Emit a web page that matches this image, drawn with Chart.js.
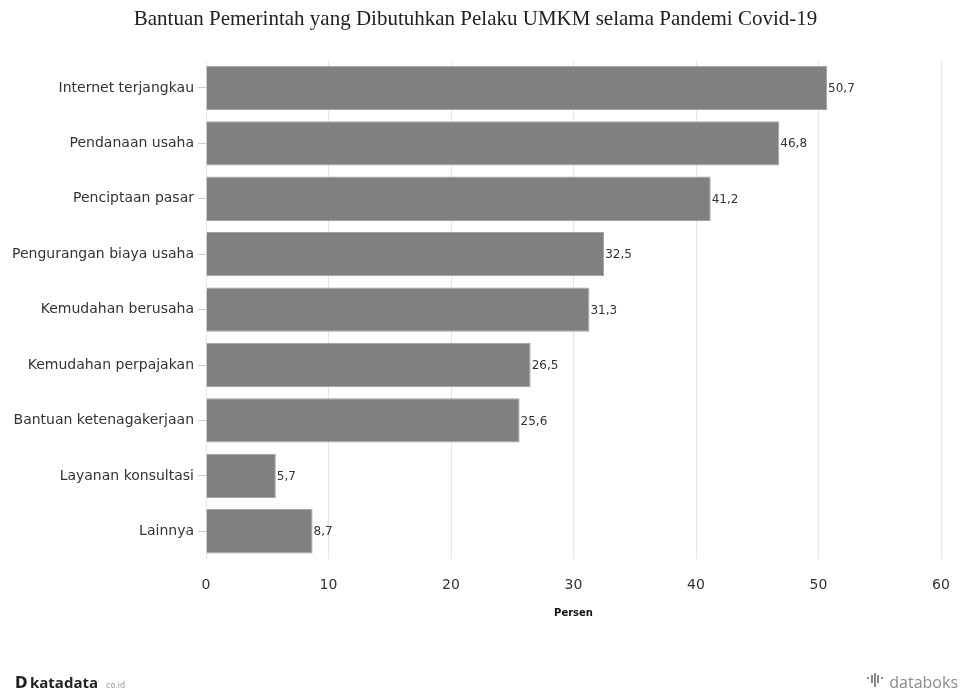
<!DOCTYPE html>
<html>
<head>
<meta charset="utf-8">
<script src="https://cdn.jsdelivr.net/npm/chart.js@4"></script>
<style>
  html, body { margin: 0; padding: 0; background: #fff; }
  #wrap { width: 960px; height: 691px; }
</style>
</head>
<body>
<div id="wrap"><canvas id="bantuan"></canvas></div>
<script>
const judul = 'Bantuan Pemerintah yang Dibutuhkan Pelaku UMKM selama Pandemi Covid-19'
const kategori = [
  'Internet terjangkau',
  'Pendanaan usaha',
  'Penciptaan pasar',
  'Pengurangan biaya usaha',
  'Kemudahan berusaha',
  'Kemudahan perpajakan',
  'Bantuan ketenagakerjaan',
  'Layanan konsultasi',
  'Lainnya'
]
const persen = [50.7, 46.8, 41.2, 32.5, 31.3, 26.5, 25.6, 5.7, 8.7]
const tickX = [0, 10, 20, 30, 40, 50, 60]

const fontSans = 'Verdana, "DejaVu Sans", sans-serif'

// label nilai di ujung bar
const labelNilai = {
  id: 'labelNilai',
  afterDatasetsDraw(chart) {
    const ctx = chart.ctx
    const meta = chart.getDatasetMeta(0)
    ctx.save()
    ctx.font = '12px ' + fontSans
    ctx.fillStyle = '#333'
    ctx.textAlign = 'left'
    ctx.textBaseline = 'middle'
    meta.data.forEach((bar, i) => {
      ctx.fillText(String(persen[i]).replace('.', ','), bar.x + 1, bar.y + 1)
    })
    ctx.restore()
  }
}

// logo bawah
const footer = {
  id: 'footer',
  afterDraw(chart) {
    const ctx = chart.ctx
    ctx.save()
    ctx.textBaseline = 'alphabetic'
    ctx.fillStyle = '#222'
    ctx.font = 'bold 15px ' + fontSans
    ctx.fillText('D', 15, 688)
    ctx.font = 'bold 15px "Open Sans", sans-serif'
    ctx.fillText('katadata', 30, 688)
    ctx.fillStyle = '#999'
    ctx.font = '8px ' + fontSans
    ctx.fillText('co.id', 106, 688)

    ctx.fillStyle = '#8a8a8a'
    ctx.font = '16px "Open Sans", sans-serif'
    ctx.textAlign = 'right'
    ctx.fillText('databoks', 958, 688)
    ctx.fillRect(867, 677, 2, 2)
    ctx.fillRect(871, 675, 2, 8)
    ctx.fillRect(874, 673, 2, 14)
    ctx.fillRect(877, 675, 2, 8)
    ctx.fillRect(881, 677, 2, 2)
    ctx.restore()
  }
}

new Chart(document.getElementById('bantuan'), {
  type: 'bar',
  data: {
    labels: kategori,
    datasets: [{
      data: persen,
      backgroundColor: '#808080',
      borderColor: '#a3a3a3',
      borderWidth: 1,
      barPercentage: 0.8,
      categoryPercentage: 1
    }]
  },
  options: {
    indexAxis: 'y',
    responsive: true,
    maintainAspectRatio: false,
    animation: false,
    layout: { padding: { left: 10, right: 19, top: 0, bottom: 68 } },
    plugins: {
      legend: { display: false },
      tooltip: { enabled: false },
      title: {
        display: true,
        text: judul,
        color: '#222',
        font: { family: '"Liberation Serif", "Times New Roman", serif', size: 21, weight: 'normal' },
        padding: { top: 7, bottom: 28 }
      }
    },
    scales: {
      x: {
        min: 0,
        max: 60,
        afterBuildTicks(scale) { scale.ticks = tickX.map(v => ({ value: v })) },
        afterFit(scale) {
          scale.height = 64
          scale.paddingLeft = 0
          scale.paddingRight = 0
        },
        grid: { color: '#e6e6e6', drawTicks: false },
        border: { display: false },
        ticks: { color: '#333', font: { family: fontSans, size: 14 }, padding: 18, maxRotation: 0 },
        title: {
          display: true,
          text: 'Persen',
          color: '#111',
          font: { family: fontSans, size: 10, weight: 'bold' },
          padding: { top: 10, bottom: 4 }
        }
      },
      y: {
        afterFit(scale) { scale.width = 196 },
        grid: { drawOnChartArea: false, offset: false, color: '#ccc', tickLength: 8 },
        border: { display: false },
        ticks: { color: '#333', font: { family: fontSans, size: 14 }, padding: 4 }
      }
    }
  },
  plugins: [labelNilai, footer]
})
</script>
</body>
</html>
